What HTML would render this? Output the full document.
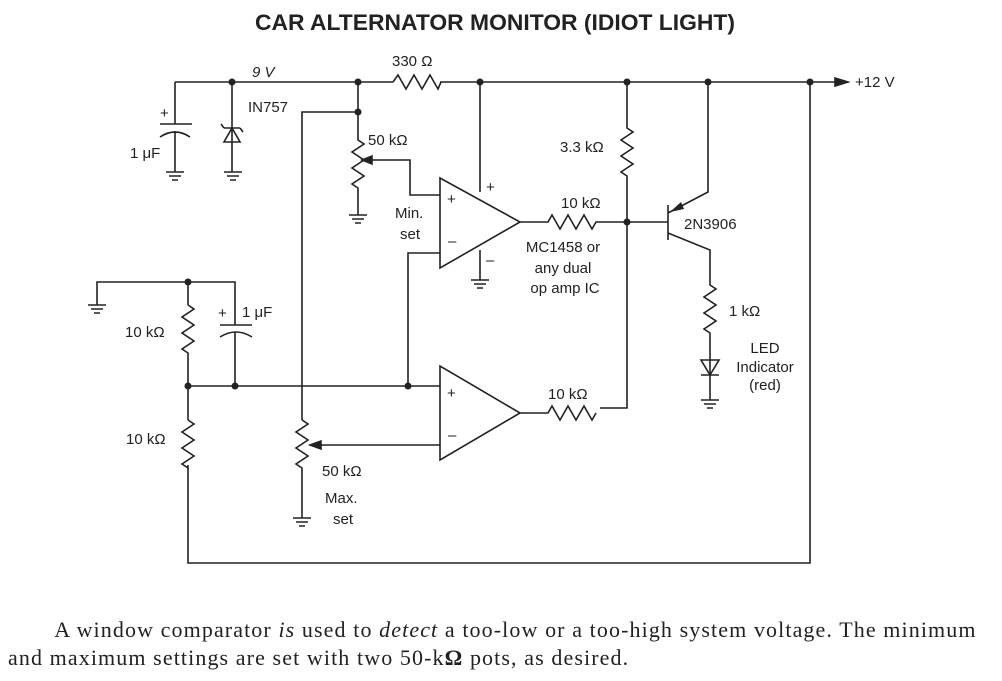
<!DOCTYPE html>
<html><head><meta charset="utf-8"><style>
body{margin:0;background:#fff;width:1002px;height:681px;overflow:hidden}
svg text{font-family:"Liberation Sans",sans-serif;font-size:15px;fill:#222}
.cap{position:absolute;left:8px;top:616px;font-family:"Liberation Serif",serif;font-size:22px;letter-spacing:1.1px;color:#222;line-height:28px;width:1000px;white-space:nowrap}
</style></head><body>
<svg width="1002" height="600" style="position:absolute;left:0;top:0" stroke="#222" stroke-width="1.6" fill="none">
<text x="255" y="30" textLength="480" lengthAdjust="spacingAndGlyphs" style="font-size:22px;font-weight:bold" stroke="none">CAR ALTERNATOR MONITOR (IDIOT LIGHT)</text>
<path d="M175 82H393 M440 82H835"/>
<path d="M393 82l5-7 8 14 8-14 8 14 8-14 8 14 3-7"/>
<polygon points="835,78 848,82 835,86" fill="#222"/>
<text x="855" y="87" stroke="none">+12 V</text>
<text x="252" y="77" stroke="none" font-style="italic">9 V</text>
<text x="392" y="66" stroke="none">330 Ω</text>
<path d="M175 82V124 M160 124H192 M160 137Q175 127 190 137 M175 131V172"/>
<text x="160" y="118" stroke="none">+</text>
<text x="130" y="158" stroke="none">1 μF</text>
<path d="M166 172H184 M169 176H181 M172 180H178"/>
<path d="M232 82V172 M224 128H240 M224 128l-3-4 M240 128l3 4 M224 142H240L232 128Z"/>
<path d="M224 172H242 M227 176H239 M230 180H236"/>
<text x="248" y="112" stroke="none">IN757</text>
<path d="M358 82V140 l6 4-12 8 12 8-12 8 12 8-12 8 6 4V215 M358 112H302V420"/>
<path d="M349 215H367 M352 219H364 M355 223H361"/>
<path d="M370 160H410V195H440"/><polygon points="362,160 372,156 372,164" fill="#222"/>
<text x="368" y="145" stroke="none">50 kΩ</text>
<text x="395" y="218" stroke="none">Min.</text>
<text x="400" y="239" stroke="none">set</text>
<path d="M440 178V268L520 222Z"/>
<text x="447" y="204" stroke="none">+</text><text x="448" y="246" stroke="none">–</text>
<path d="M480 82V192 M480 250V280 M471 280H489 M474 284H486 M477 288H483"/>
<text x="486" y="192" stroke="none">+</text><text x="486" y="265" stroke="none">–</text>
<path d="M440 253H408V386"/>
<path d="M520 222H548l4-7 8 14 8-14 8 14 8-14 8 14 4-7H627"/>
<text x="561" y="208" stroke="none">10 kΩ</text>
<text x="563" y="252" text-anchor="middle" stroke="none">MC1458 or</text>
<text x="563" y="273" text-anchor="middle" stroke="none">any dual</text>
<text x="565" y="293" text-anchor="middle" stroke="none">op amp IC</text>
<path d="M627 82V128l6 4-12 8 12 8-12 8 12 8-12 8 6 4V408H600"/>
<text x="560" y="152" stroke="none">3.3 kΩ</text>
<path d="M627 222H668 M668 205V240 M668 213L708 192V82 M668 233L710 250V285l6 4-12 8 12 8-12 8 12 8-12 8 6 4V400"/>
<polygon points="670,212 681,202 684,209" fill="#222" stroke="none"/>
<text x="684" y="229" stroke="none">2N3906</text>
<text x="729" y="316" stroke="none">1 kΩ</text>
<path d="M701 360H719L710 375Z M701 375H719"/>
<path d="M701 400H719 M704 404H716 M707 408H713"/>
<text x="765" y="353" text-anchor="middle" stroke="none">LED</text>
<text x="765" y="372" text-anchor="middle" stroke="none">Indicator</text>
<text x="765" y="390" text-anchor="middle" stroke="none">(red)</text>
<path d="M810 82V563H188V465 M188 420V386 M188 282V305"/>
<path d="M97 305V282H235V325 M220 325H252 M220 337Q236 327 252 337 M235 332V386 M188 386H440"/>
<path d="M88 305H106 M91 309H103 M94 313H100"/>
<path d="M188 305l6 4-12 8 12 8-12 8 12 8-12 8 6 4V386"/>
<path d="M188 420l6 4-12 8 12 8-12 8 12 8-12 8 6 4"/>
<text x="218" y="318" stroke="none">+</text>
<text x="242" y="317" stroke="none">1 μF</text>
<text x="125" y="337" stroke="none">10 kΩ</text>
<text x="126" y="444" stroke="none">10 kΩ</text>
<path d="M302 420l6 4-12 8 12 8-12 8 12 8-12 8 6 4V518 M293 518H311 M296 522H308 M299 526H305"/>
<path d="M318 445H440"/><polygon points="310,445 321,441 321,449" fill="#222"/>
<text x="322" y="476" stroke="none">50 kΩ</text>
<text x="325" y="503" stroke="none">Max.</text>
<text x="333" y="524" stroke="none">set</text>
<path d="M440 366V460L520 413Z"/>
<text x="447" y="398" stroke="none">+</text><text x="448" y="440" stroke="none">–</text>
<path d="M520 413H548l4-7 8 14 8-14 8 14 8-14 8 14 4-7"/>
<text x="548" y="399" stroke="none">10 kΩ</text>
<g fill="#222" stroke="none">
<circle cx="232" cy="82" r="3.5"/><circle cx="358" cy="82" r="3.5"/><circle cx="480" cy="82" r="3.5"/><circle cx="627" cy="82" r="3.5"/><circle cx="708" cy="82" r="3.5"/><circle cx="810" cy="82" r="3.5"/>
<circle cx="358" cy="112" r="3.5"/><circle cx="627" cy="222" r="3.5"/><circle cx="188" cy="282" r="3.5"/><circle cx="188" cy="386" r="3.5"/><circle cx="235" cy="386" r="3.5"/><circle cx="408" cy="386" r="3.5"/>
</g>
</svg>
<div class="cap">&nbsp;&nbsp;&nbsp;&nbsp;&nbsp;&nbsp;&nbsp;A window comparator <i>is</i> used to <i>detect</i> a too-low or a too-high system voltage. The minimum<br>and maximum settings are set with two 50-k<b>Ω</b> pots, as desired.</div>
</body></html>
